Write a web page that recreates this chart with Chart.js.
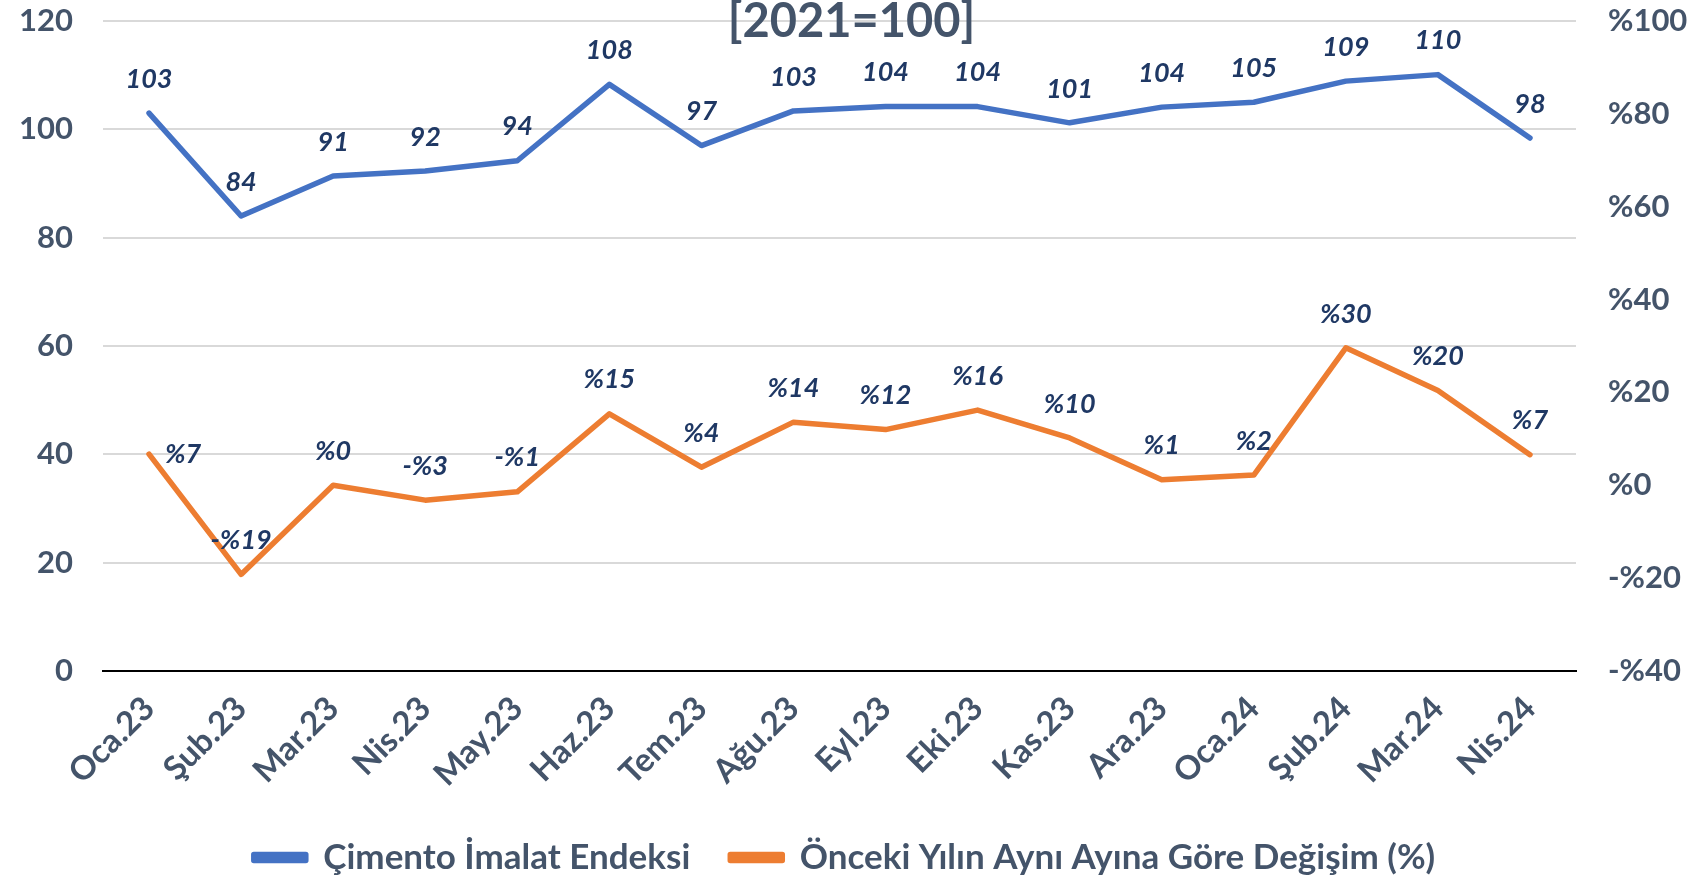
<!DOCTYPE html>
<html>
<head>
<meta charset="utf-8">
<script src="https://cdn.jsdelivr.net/npm/chart.js@4/dist/chart.umd.min.js"></script>
<style>
    body { margin: 0; background: #fff; }
    #wrap { width: 1689px; height: 878px; }
</style>
</head>
<body>
<div id="wrap"><canvas id="cement-chart"></canvas></div>
<script>
const months = ['Oca.23', 'Şub.23', 'Mar.23', 'Nis.23', 'May.23', 'Haz.23', 'Tem.23', 'Ağu.23',
    'Eyl.23', 'Eki.23', 'Kas.23', 'Ara.23', 'Oca.24', 'Şub.24', 'Mar.24', 'Nis.24'];
const indexValues = [103.0, 84.0, 91.4, 92.3, 94.2, 108.3, 97.0, 103.4, 104.2, 104.2, 101.2, 104.1, 105.0, 108.9, 110.1, 98.4];
const changeValues = [6.7, -19.2, 0.0, -3.2, -1.4, 15.4, 3.9, 13.6, 12.0, 16.2, 10.2, 1.2, 2.2, 29.6, 20.4, 6.6];
const titleText = '[2021=100]';

const textColor = '#44546A';
const labelColor = '#1F3864';
const fontFamily = 'Lato, "Open Sans", sans-serif';

function pct(v) {
    return v < 0 ? '-%' + Math.abs(v) : '%' + v;
}

// draws the value labels next to each point
const pointLabels = {
    id: 'pointLabels',
    afterDatasetsDraw(chart) {
        const ctx = chart.ctx;
        ctx.save();
        ctx.font = 'italic bold 27px ' + fontFamily;
        ctx.fillStyle = labelColor;
        ctx.textAlign = 'center';
        ctx.textBaseline = 'middle';
        chart.data.datasets.forEach((ds, di) => {
            const meta = chart.getDatasetMeta(di);
            meta.data.forEach((pt, i) => {
                const v = Math.round(ds.data[i]);
                const text = di === 0 ? String(v) : pct(v);
                let x = pt.x, y = pt.y - 34;
                if (di === 1 && i === 0) {
                    x = pt.x + 34;
                    y = pt.y;
                }
                ctx.fillText(text, x, y);
            });
        });
        ctx.restore();
    }
};

const topTitle = {
    id: 'topTitle',
    afterDraw(chart) {
        const ctx = chart.ctx;
        ctx.save();
        ctx.font = 'bold 47px ' + fontFamily;
        ctx.fillStyle = textColor;
        ctx.textAlign = 'center';
        ctx.textBaseline = 'middle';
        ctx.fillText(titleText, chart.width / 2 + 7, 22);
        ctx.restore();
    }
};

// fixed axis sizes, no extra padding above/below the value axes
function fixY(width) {
    return (s) => {
        s.width = width;
        s.paddingTop = 0;
        s.paddingBottom = 0;
    };
}

const ctx = document.getElementById('cement-chart');

new Chart(ctx, {
    type: 'line',
    data: {
        labels: months,
        datasets: [{
            label: 'Çimento İmalat Endeksi',
            data: indexValues,
            borderColor: '#4472C4',
            backgroundColor: '#4472C4',
            borderWidth: 5.5,
            pointRadius: 0,
            borderCapStyle: 'round',
            borderJoinStyle: 'round',
            yAxisID: 'y'
        }, {
            label: 'Önceki Yılın Aynı Ayına Göre Değişim (%)',
            data: changeValues,
            borderColor: '#ED7D31',
            backgroundColor: '#ED7D31',
            borderWidth: 5.5,
            pointRadius: 0,
            borderCapStyle: 'round',
            borderJoinStyle: 'round',
            yAxisID: 'y1'
        }]
    },
    options: {
        responsive: true,
        maintainAspectRatio: false,
        animation: false,
        layout: {
            padding: { top: 21, left: 0, right: 0, bottom: -7 }
        },
        plugins: {
            legend: {
                position: 'bottom',
                labels: {
                    color: textColor,
                    font: { family: fontFamily, size: 35, weight: 'bold' },
                    boxWidth: 52,
                    boxHeight: 6,
                    padding: 40
                }
            },
            tooltip: { enabled: false }
        },
        scales: {
            x: {
                offset: true,
                grid: { display: false, drawTicks: false },
                border: { display: true, color: '#000', width: 2 },
                ticks: {
                    color: textColor,
                    font: { family: fontFamily, size: 33, weight: 'bold' },
                    minRotation: 45,
                    maxRotation: 45,
                    padding: 18
                },
                afterFit: (s) => { s.height = 129; }
            },
            y: {
                position: 'left',
                min: 0,
                max: 120,
                ticks: {
                    stepSize: 20,
                    color: textColor,
                    font: { family: fontFamily, size: 31, weight: 'bold' },
                    padding: 30
                },
                grid: { color: '#D9D9D9', lineWidth: 2, drawTicks: false },
                border: { display: false },
                afterFit: fixY(103)
            },
            y1: {
                position: 'right',
                min: -40,
                max: 100,
                ticks: {
                    stepSize: 20,
                    color: textColor,
                    font: { family: fontFamily, size: 31, weight: 'bold' },
                    padding: 32,
                    callback: (v) => pct(v)
                },
                grid: { display: false, drawTicks: false },
                border: { display: false },
                afterFit: fixY(113)
            }
        }
    },
    plugins: [pointLabels, topTitle]
});
</script>
</body>
</html>
